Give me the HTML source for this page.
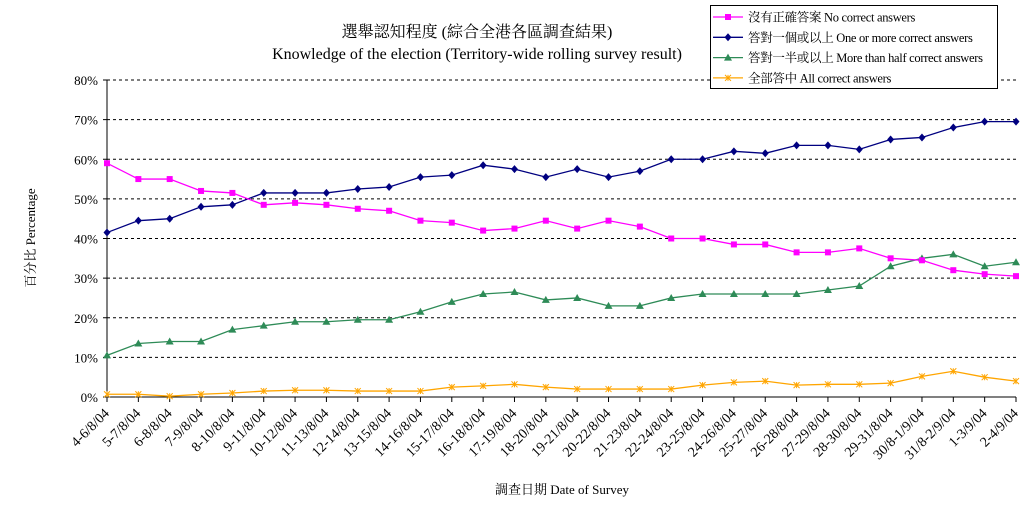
<!DOCTYPE html><html><head><meta charset="utf-8"><style>body{margin:0;background:#fff}svg{display:block;font-family:"Liberation Serif","Noto Serif CJK SC","Noto Sans CJK TC",serif}</style></head><body>
<svg id="s" width="1020" height="519" xmlns="http://www.w3.org/2000/svg"></svg>
<script>
const s=document.getElementById('s');
const X0=107,X1=1016,Y0=397,K=3.9625;
const labels=["4-6/8/04","5-7/8/04","6-8/8/04","7-9/8/04","8-10/8/04","9-11/8/04","10-12/8/04","11-13/8/04","12-14/8/04","13-15/8/04","14-16/8/04","15-17/8/04","16-18/8/04","17-19/8/04","18-20/8/04","19-21/8/04","20-22/8/04","21-23/8/04","22-24/8/04","23-25/8/04","24-26/8/04","25-27/8/04","26-28/8/04","27-29/8/04","28-30/8/04","29-31/8/04","30/8-1/9/04","31/8-2/9/04","1-3/9/04","2-4/9/04"];
const dx=(X1-X0)/29;
const xs=i=>X0+i*dx, ys=v=>Y0-v*K;
const D={
p:[59,55,55,52,51.5,48.5,49,48.5,47.5,47,44.5,44,42,42.5,44.5,42.5,44.5,43,40,40,38.5,38.5,36.5,36.5,37.5,35,34.5,32,31,30.5],
b:[41.5,44.5,45,48,48.5,51.5,51.5,51.5,52.5,53,55.5,56,58.5,57.5,55.5,57.5,55.5,57,60,60,62,61.5,63.5,63.5,62.5,65,65.5,68,69.5,69.5],
g:[10.5,13.5,14,14,17,18,19,19,19.5,19.5,21.5,24,26,26.5,24.5,25,23,23,25,26,26,26,26,27,28,33,35,36,33,34],
o:[0.7,0.7,0.2,0.7,1,1.5,1.7,1.7,1.5,1.5,1.5,2.5,2.8,3.2,2.5,2,2,2,2,3,3.7,4,3,3.2,3.2,3.5,5.2,6.5,5,4]};
let h='';
for(let v=10;v<=80;v+=10){h+=`<line x1="${X0}" x2="${X1}" y1="${ys(v)}" y2="${ys(v)}" stroke="#000" stroke-dasharray="3,3" stroke-width="1"/>`;}
for(let v=0;v<=80;v+=10){h+=`<text x="98" y="${ys(v)+5}" font-size="13" text-anchor="end">${v}%</text>`;}
h+=`<line x1="${X0}" x2="${X0}" y1="80" y2="${Y0}" stroke="#000"/><line x1="${X0}" x2="${X1}" y1="${Y0}" y2="${Y0}" stroke="#000"/>`;
for(let v=0;v<=80;v+=10)h+=`<line x1="${X0-4}" x2="${X0}" y1="${ys(v)}" y2="${ys(v)}" stroke="#000"/>`;
labels.forEach((l,i)=>{const x=xs(i);h+=`<line x1="${x}" x2="${x}" y1="${Y0}" y2="${Y0+5}" stroke="#000"/><text transform="translate(${x+3},${Y0+17}) rotate(-45)" font-size="14" text-anchor="end">${l}</text>`;});
function ser(a,c,m){let pts=a.map((v,i)=>xs(i)+','+ys(v)).join(' ');h+=`<polyline points="${pts}" fill="none" stroke="${c}" stroke-width="1.3"/>`;a.forEach((v,i)=>h+=mk(xs(i),ys(v),c,m));}
function mk(x,y,c,m){if(m=='s')return `<rect x="${x-3}" y="${y-3}" width="6" height="6" fill="${c}"/>`;
if(m=='d')return `<polygon points="${x},${y-4} ${x+3.5},${y} ${x},${y+4} ${x-3.5},${y}" fill="${c}"/>`;
if(m=='t')return `<polygon points="${x},${y-4} ${x+4},${y+3} ${x-4},${y+3}" fill="${c}"/>`;
return `<path d="M${x-3} ${y-3}L${x+3} ${y+3}M${x+3} ${y-3}L${x-3} ${y+3}M${x} ${y-3}V${y+3}" stroke="${c}" stroke-width="1"/>`;}
ser(D.o,'#ffa500','x');ser(D.g,'#2e8b57','t');ser(D.b,'#000080','d');ser(D.p,'#ff00ff','s');
h+=`<text x="477" y="37" font-size="16" text-anchor="middle">選舉認知程度 (綜合全港各區調查結果)</text><text x="477" y="59" font-size="16" text-anchor="middle">Knowledge of the election (Territory-wide rolling survey result)</text>`;
h+=`<text transform="translate(35,238) rotate(-90)" font-size="13" text-anchor="middle">百分比 Percentage</text>`;
h+=`<text x="562" y="494" font-size="13" text-anchor="middle">調查日期 Date of Survey</text>`;
h+=`<rect x="710.5" y="5.5" width="287" height="83" fill="#fff" stroke="#000"/>`;
const lg=[['#ff00ff','s','沒有正確答案 No correct answers'],['#000080','d','答對一個或以上 One or more correct answers'],['#2e8b57','t','答對一半或以上 More than half correct answers'],['#ffa500','x','全部答中 All correct answers']];
lg.forEach((l,i)=>{const y=17+i*20.3;h+=`<line x1="713" x2="743" y1="${y}" y2="${y}" stroke="${l[0]}" stroke-width="1.3"/>`+mk(728,y,l[0],l[1])+`<text x="748" y="${y+4.5}" font-size="12.5" letter-spacing="-0.3">${l[2]}</text>`;});
s.innerHTML=h;
</script></body></html>
